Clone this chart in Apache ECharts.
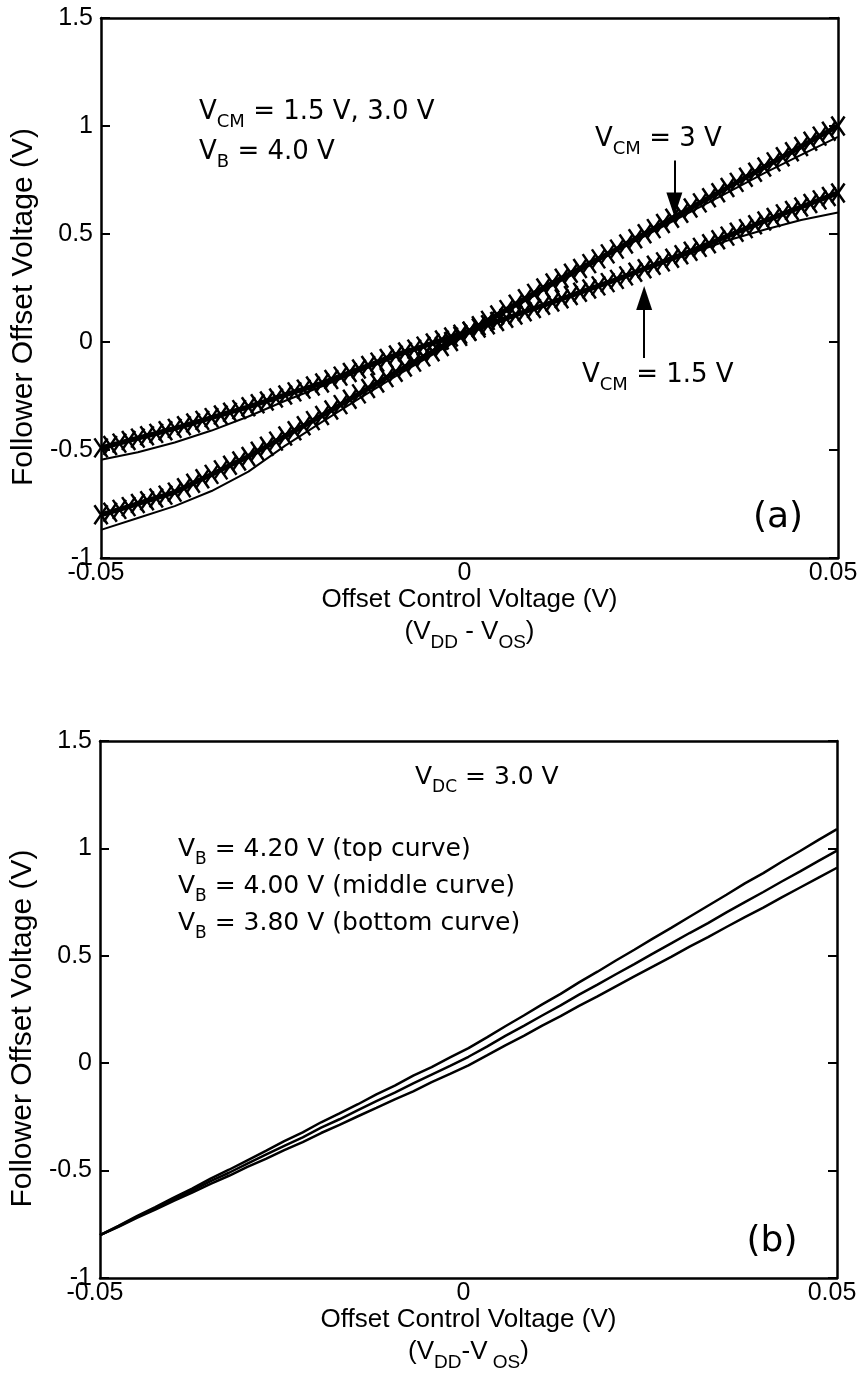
<!DOCTYPE html>
<html>
<head>
<meta charset="utf-8">
<script src="https://cdn.jsdelivr.net/npm/echarts@6/dist/echarts.min.js"></script>
<style>
  html, body { margin: 0; padding: 0; background: #fff; }
  #chart { width: 864px; height: 1374px; }
</style>
</head>
<body>
<div id="chart"></div>
<script>
// Offset control sweep, simulated points (x marks), step 1.25 mV
const xMarks = [-0.05, -0.04875, -0.0475, -0.04625, -0.045, -0.04375, -0.0425, -0.04125, -0.04,
  -0.03875, -0.0375, -0.03625, -0.035, -0.03375, -0.0325, -0.03125, -0.03,
  -0.02875, -0.0275, -0.02625, -0.025, -0.02375, -0.0225, -0.02125, -0.02,
  -0.01875, -0.0175, -0.01625, -0.015, -0.01375, -0.0125, -0.01125, -0.01,
  -0.00875, -0.0075, -0.00625, -0.005, -0.00375, -0.0025, -0.00125, 0,
  0.00125, 0.0025, 0.00375, 0.005, 0.00625, 0.0075, 0.00875, 0.01,
  0.01125, 0.0125, 0.01375, 0.015, 0.01625, 0.0175, 0.01875, 0.02,
  0.02125, 0.0225, 0.02375, 0.025, 0.02625, 0.0275, 0.02875, 0.03,
  0.03125, 0.0325, 0.03375, 0.035, 0.03625, 0.0375, 0.03875, 0.04,
  0.04125, 0.0425, 0.04375, 0.045, 0.04625, 0.0475, 0.04875, 0.05];

// Simulated follower offset, V_CM = 3 V
const simVcm3 = [-0.800, -0.788, -0.775, -0.762, -0.748, -0.735, -0.722, -0.709, -0.695,
  -0.675, -0.654, -0.633, -0.613, -0.592, -0.571, -0.551, -0.530,
  -0.506, -0.483, -0.459, -0.435, -0.411, -0.388, -0.364, -0.340,
  -0.315, -0.290, -0.265, -0.240, -0.215, -0.190, -0.165, -0.140,
  -0.116, -0.093, -0.069, -0.045, -0.021, 0.002, 0.026, 0.050,
  0.075, 0.100, 0.125, 0.150, 0.175, 0.200, 0.225, 0.250,
  0.273, 0.295, 0.318, 0.340, 0.363, 0.385, 0.408, 0.430,
  0.454, 0.478, 0.501, 0.525, 0.549, 0.573, 0.596, 0.620,
  0.644, 0.668, 0.691, 0.715, 0.739, 0.763, 0.786, 0.810,
  0.834, 0.858, 0.881, 0.905, 0.929, 0.953, 0.976, 1.000];

// Simulated follower offset, V_CM = 1.5 V
const simVcm15 = [-0.490, -0.479, -0.468, -0.456, -0.445, -0.434, -0.423, -0.411, -0.400,
  -0.388, -0.375, -0.363, -0.350, -0.338, -0.325, -0.313, -0.300,
  -0.286, -0.273, -0.259, -0.245, -0.231, -0.218, -0.204, -0.190,
  -0.174, -0.158, -0.141, -0.125, -0.109, -0.093, -0.076, -0.060,
  -0.046, -0.033, -0.019, -0.005, 0.009, 0.023, 0.036, 0.050,
  0.065, 0.080, 0.095, 0.110, 0.125, 0.140, 0.155, 0.170,
  0.185, 0.200, 0.215, 0.230, 0.245, 0.260, 0.275, 0.290,
  0.306, 0.323, 0.339, 0.355, 0.371, 0.388, 0.404, 0.420,
  0.438, 0.455, 0.473, 0.490, 0.508, 0.525, 0.543, 0.560,
  0.576, 0.593, 0.609, 0.625, 0.641, 0.658, 0.674, 0.690];

// Measured sweeps for panel (a), step 5 mV
const xMeas = [-0.05, -0.045, -0.04, -0.035, -0.03, -0.025, -0.02, -0.015, -0.01, -0.005, 0,
  0.005, 0.01, 0.015, 0.02, 0.025, 0.03, 0.035, 0.04, 0.045, 0.05];
const measVcm3 = [-0.870, -0.815, -0.760, -0.690, -0.600, -0.480, -0.370, -0.262, -0.158, -0.058, 0.040,
  0.140, 0.238, 0.330, 0.422, 0.512, 0.602, 0.692, 0.782, 0.866, 0.950];
const measVcm15 = [-0.545, -0.510, -0.465, -0.410, -0.345, -0.272, -0.205, -0.136, -0.070, -0.010, 0.045,
  0.105, 0.165, 0.225, 0.285, 0.350, 0.410, 0.470, 0.520, 0.565, 0.600];

// Measured sweeps for panel (b), step 2.5 mV
const xTrace = [-0.05, -0.0475, -0.045, -0.0425, -0.04, -0.0375, -0.035, -0.0325, -0.03, -0.0275,
  -0.025, -0.0225, -0.02, -0.0175, -0.015, -0.0125, -0.01, -0.0075, -0.005, -0.0025, 0,
  0.0025, 0.005, 0.0075, 0.01, 0.0125, 0.015, 0.0175, 0.02, 0.0225, 0.025,
  0.0275, 0.03, 0.0325, 0.035, 0.0375, 0.04, 0.0425, 0.045, 0.0475, 0.05];
const vb420 = [-0.800, -0.757, -0.712, -0.670, -0.626, -0.584, -0.537, -0.496, -0.452, -0.408,
  -0.363, -0.322, -0.275, -0.234, -0.191, -0.145, -0.104, -0.058, -0.018, 0.027, 0.070,
  0.120, 0.172, 0.222, 0.274, 0.323, 0.376, 0.426, 0.478, 0.528, 0.580,
  0.630, 0.682, 0.733, 0.784, 0.837, 0.885, 0.938, 0.988, 1.040, 1.090];
const vb400 = [-0.800, -0.760, -0.716, -0.676, -0.634, -0.593, -0.549, -0.510, -0.467, -0.426,
  -0.385, -0.345, -0.300, -0.261, -0.219, -0.177, -0.137, -0.094, -0.053, -0.012, 0.030,
  0.077, 0.127, 0.174, 0.222, 0.269, 0.319, 0.366, 0.414, 0.461, 0.510,
  0.558, 0.606, 0.652, 0.702, 0.750, 0.797, 0.846, 0.893, 0.942, 0.990];
const vb380 = [-0.800, -0.762, -0.720, -0.682, -0.641, -0.603, -0.562, -0.524, -0.483, -0.445,
  -0.405, -0.367, -0.325, -0.287, -0.247, -0.208, -0.168, -0.131, -0.088, -0.050, -0.010,
  0.036, 0.083, 0.127, 0.175, 0.219, 0.267, 0.311, 0.358, 0.404, 0.450,
  0.495, 0.543, 0.587, 0.634, 0.680, 0.724, 0.772, 0.818, 0.864, 0.910];

// Pointer arrows in panel (a): [x, tail y, head y]
const arrowVcm3 = [0.0278, 0.84, 0.636];
const arrowVcm15 = [0.0237, -0.074, 0.204];

const zip = (xs, ys) => xs.map((x, i) => [x, ys[i]]);

const BLACK = '#000';
const TICK_FONT = 'Liberation Sans';
const NOTE_FONT = 'DejaVu Sans';
// cross mark used for the simulated points
const crossSymbol = 'path://M0,0L9,13M9,0L0,13';

function bottomAxis(grid, secondLine) {
  return {
    gridIndex: grid, type: 'value', position: 'bottom',
    min: -0.05, max: 0.05, interval: 0.05,
    axisLine: { onZero: false, lineStyle: { color: BLACK, width: 2.5 } },
    axisTick: { show: false },
    splitLine: { show: false },
    axisLabel: { color: BLACK, fontFamily: TICK_FONT, fontSize: 25, margin: 3, padding: [0, 10, 0, 0] },
    name: '{t|Offset Control Voltage (V)}\n' + secondLine,
    nameLocation: 'middle', nameGap: 26,
    nameTextStyle: {
      color: BLACK, fontFamily: TICK_FONT, fontSize: 26, lineHeight: 32,
      rich: {
        t: { color: BLACK, fontFamily: TICK_FONT, fontSize: 26, lineHeight: 32, verticalAlign: 'top' },
        s: { color: BLACK, fontFamily: TICK_FONT, fontSize: 19, lineHeight: 20, padding: [14, 0, 0, 0], verticalAlign: 'top' }
      }
    }
  };
}
function topAxis(grid) {
  return {
    gridIndex: grid, type: 'value', position: 'top',
    min: -0.05, max: 0.05, interval: 0.05,
    axisLine: { onZero: false, lineStyle: { color: BLACK, width: 2.5 } },
    axisTick: { show: false }, axisLabel: { show: false }, splitLine: { show: false }
  };
}
function leftAxis(grid) {
  return {
    gridIndex: grid, type: 'value', position: 'left',
    min: -1, max: 1.5, interval: 0.5,
    axisLine: { show: true, onZero: false, lineStyle: { color: BLACK, width: 2.5 } },
    axisTick: { show: true, inside: true, length: 9, lineStyle: { color: BLACK, width: 2 } },
    splitLine: { show: false },
    axisLabel: { color: BLACK, fontFamily: TICK_FONT, fontSize: 25, margin: 8 },
    name: 'Follower Offset Voltage (V)',
    nameLocation: 'middle', nameRotate: 90, nameGap: 62,
    nameTextStyle: { color: BLACK, fontFamily: TICK_FONT, fontSize: 30, padding: [0, 38, 0, 0] }
  };
}
function rightAxis(grid) {
  return {
    gridIndex: grid, type: 'value', position: 'right',
    min: -1, max: 1.5, interval: 0.5,
    axisLine: { show: true, onZero: false, lineStyle: { color: BLACK, width: 2.5 } },
    axisTick: { show: true, inside: true, length: 9, lineStyle: { color: BLACK, width: 2 } },
    axisLabel: { show: false }, splitLine: { show: false }
  };
}

function arrowLine(a) {
  return {
    silent: true,
    symbol: ['none', 'triangle'],
    symbolSize: [16, 24],
    label: { show: false },
    lineStyle: { type: 'solid', color: BLACK, width: 2 },
    emphasis: { disabled: true },
    data: [[{ coord: [a[0], a[1]] }, { coord: [a[0], a[2]] }]]
  };
}

function simSeries(name, values, arrow) {
  return {
    name, type: 'line', xAxisIndex: 0, yAxisIndex: 0,
    data: zip(xMarks, values),
    symbol: crossSymbol, symbolSize: 19, symbolKeepAspect: true,
    showSymbol: true, showAllSymbol: true,
    lineStyle: { color: BLACK, width: 5 },
    itemStyle: { color: 'transparent', borderColor: BLACK, borderWidth: 2.5 },
    emphasis: { disabled: true },
    markLine: arrowLine(arrow),
    z: 3
  };
}
function plainSeries(name, xs, values, xi, yi, w) {
  return {
    name, type: 'line', xAxisIndex: xi, yAxisIndex: yi,
    data: zip(xs, values),
    showSymbol: false,
    lineStyle: { color: BLACK, width: w },
    emphasis: { disabled: true },
    z: 2
  };
}

const noteRich = {
  v: { fill: BLACK, fontFamily: NOTE_FONT, fontSize: 26, lineHeight: 30, verticalAlign: 'top' },
  s: { fill: BLACK, fontFamily: NOTE_FONT, fontSize: 18, lineHeight: 18, padding: [14, 0, 0, 0], verticalAlign: 'top' }
};
const noteRichB = {
  v: { fill: BLACK, fontFamily: NOTE_FONT, fontSize: 25, lineHeight: 30, verticalAlign: 'top' },
  s: { fill: BLACK, fontFamily: NOTE_FONT, fontSize: 17, lineHeight: 18, padding: [14, 0, 0, 0], verticalAlign: 'top' }
};
function note(text, left, top, rich) {
  return { type: 'text', left, top, style: { text, rich: rich || noteRich } };
}
function tag(text, x, y) {
  return { type: 'text', x, y, style: { text, fill: BLACK, fontFamily: NOTE_FONT, fontSize: 36, align: 'center', verticalAlign: 'middle' } };
}

const option = {
  animation: false,
  backgroundColor: '#fff',
  grid: [
    { left: 101, top: 18, width: 737, height: 540 },
    { left: 100, top: 741, width: 737, height: 537 }
  ],
  xAxis: [
    bottomAxis(0, '{t|(V}{s|DD}{t| - V}{s|OS}{t|)}'),
    topAxis(0),
    bottomAxis(1, '{t|(V}{s|DD}{t|-V}{s| OS}{t|)}'),
    topAxis(1)
  ],
  yAxis: [leftAxis(0), rightAxis(0), leftAxis(1), rightAxis(1)],
  series: [
    plainSeries('meas VCM 3 V', xMeas, measVcm3, 0, 0, 2),
    plainSeries('meas VCM 1.5 V', xMeas, measVcm15, 0, 0, 2),
    simSeries('sim VCM 3 V', simVcm3, arrowVcm3),
    simSeries('sim VCM 1.5 V', simVcm15, arrowVcm15),
    plainSeries('VB 4.20 V', xTrace, vb420, 2, 2, 2.5),
    plainSeries('VB 4.00 V', xTrace, vb400, 2, 2, 2.5),
    plainSeries('VB 3.80 V', xTrace, vb380, 2, 2, 2.5)
  ],
  graphic: [
    note('{v|V}{s|CM}{v| = 1.5 V, 3.0 V}', 199, 99),
    note('{v|V}{s|B}{v| = 4.0 V}', 199, 139),
    note('{v|V}{s|CM}{v| = 3 V}', 595, 126),
    note('{v|V}{s|CM}{v| = 1.5 V}', 582, 362),
    tag('(a)', 778, 518),
    note('{v|V}{s|DC}{v| = 3.0 V}', 415, 765, noteRichB),
    note('{v|V}{s|B}{v| = 4.20 V (top curve)}', 178, 837, noteRichB),
    note('{v|V}{s|B}{v| = 4.00 V (middle curve)}', 178, 874, noteRichB),
    note('{v|V}{s|B}{v| = 3.80 V (bottom curve)}', 178, 911, noteRichB),
    tag('(b)', 772, 1242)
  ]
};

const chart = echarts.init(document.getElementById('chart'), null, { renderer: 'canvas' });
chart.setOption(option);
</script>
</body>
</html>
